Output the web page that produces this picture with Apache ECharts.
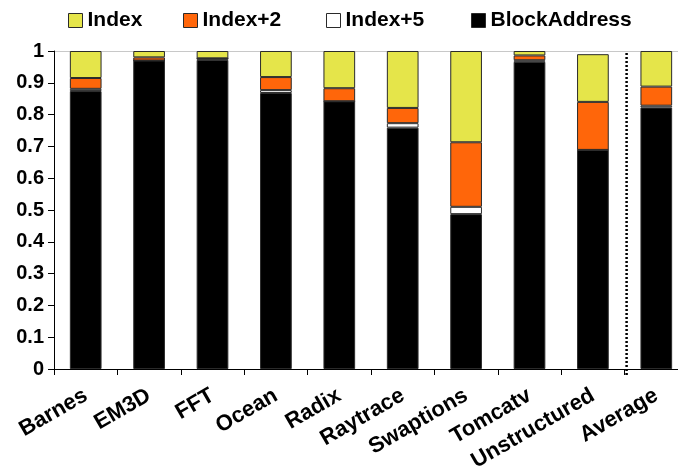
<!DOCTYPE html>
<html><head><meta charset="utf-8">
<script src="https://cdn.jsdelivr.net/npm/echarts@6/dist/echarts.min.js"></script>
<style>html,body{margin:0;padding:0;background:#fff;overflow:hidden}#c{width:700px;height:469px}</style>
</head><body><div id="c"></div>
<script>
const categories = ['Barnes','EM3D','FFT','Ocean','Radix','Raytrace','Swaptions','Tomcatv','Unstructured','Average'];
const blockAddress = [0.874, 0.970, 0.972, 0.868, 0.842, 0.759, 0.487, 0.966, 0.689, 0.822];
const index5       = [0.007, 0.000, 0.005, 0.009, 0.000, 0.014, 0.023, 0.005, 0.000, 0.006];
const index2       = [0.034, 0.010, 0.000, 0.041, 0.041, 0.048, 0.203, 0.015, 0.151, 0.060];
const indexOnly    = [0.085, 0.020, 0.023, 0.082, 0.117, 0.179, 0.287, 0.014, 0.150, 0.112];
const yTicks = [0,0.1,0.2,0.3,0.4,0.5,0.6,0.7,0.8,0.9,1];
const legendNames = ['Index','Index+2','Index+5','BlockAddress'];

const FONT = '"Liberation Sans", Arial, sans-serif';
const chart = echarts.init(document.getElementById('c'), null, {renderer:'canvas'});
const mk = (name, data, color) => ({
  name, type:'bar', stack:'s', data, barWidth:'50%',
  itemStyle:{color, borderColor:'#2a2a2a', borderWidth:1},
  emphasis:{disabled:true}
});
const legendLeft = [68, 183, 326, 471];
const legends = legendNames.map((n,i)=>({
  left:legendLeft[i], top:10, padding:0, itemWidth:14, itemHeight:14, icon:'rect',
  data:[n],
  textStyle:{fontFamily:FONT, fontWeight:'bold', fontSize:21, color:'#000'},
  itemStyle:{borderColor:'#2a2a2a', borderWidth:1}
}));
const splitColors = yTicks.map((v,i)=> i===yTicks.length-1 ? '#c8c8c8' : 'rgba(0,0,0,0)');
chart.setOption({
  animation:false,
  textStyle:{fontFamily:FONT},
  legend:legends,
  grid:{left:54, top:51, height:318, width:634, containLabel:false, outerBoundsMode:'none'},
  xAxis:{
    type:'category', data:categories,
    axisLine:{lineStyle:{color:'#000', width:1}},
    axisTick:{show:true, length:6, lineStyle:{color:'#000'}},
    axisLabel:{rotate:30, margin:25, fontFamily:FONT, fontWeight:'bold', fontSize:22, color:'#000', interval:0}
  },
  yAxis:{
    type:'value', min:0, max:1, interval:0.1,
    axisLine:{show:true, lineStyle:{color:'#000', width:1}},
    axisTick:{show:true, length:6, lineStyle:{color:'#000'}},
    splitLine:{show:true, lineStyle:{color:splitColors, width:1}},
    axisLabel:{margin:10, fontFamily:FONT, fontWeight:'bold', fontSize:20, color:'#000',
      formatter:v=>{const t=yTicks.find(x=>Math.abs(x-v)<1e-9); return t===undefined?'':String(t);}}
  },
  series:[
    mk('BlockAddress', blockAddress, '#000000'),
    mk('Index+5', index5, '#ffffff'),
    mk('Index+2', index2, '#ff660a'),
    mk('Index', indexOnly, '#e5e54a')
  ]
});
const xa = chart.convertToPixel({xAxisIndex:0}, categories[categories.length-2]);
const xb = chart.convertToPixel({xAxisIndex:0}, categories[categories.length-1]);
const sx = (xa+xb)/2 + 2;
const yTop = chart.convertToPixel({yAxisIndex:0}, 1);
const yBot = chart.convertToPixel({yAxisIndex:0}, 0);
chart.setOption({graphic:[{type:'line', shape:{x1:sx, y1:yTop+2, x2:sx, y2:yBot+6},
  style:{stroke:'#000', lineWidth:2.5, lineDash:[2,2]}, z:10}]});
</script></body></html>
